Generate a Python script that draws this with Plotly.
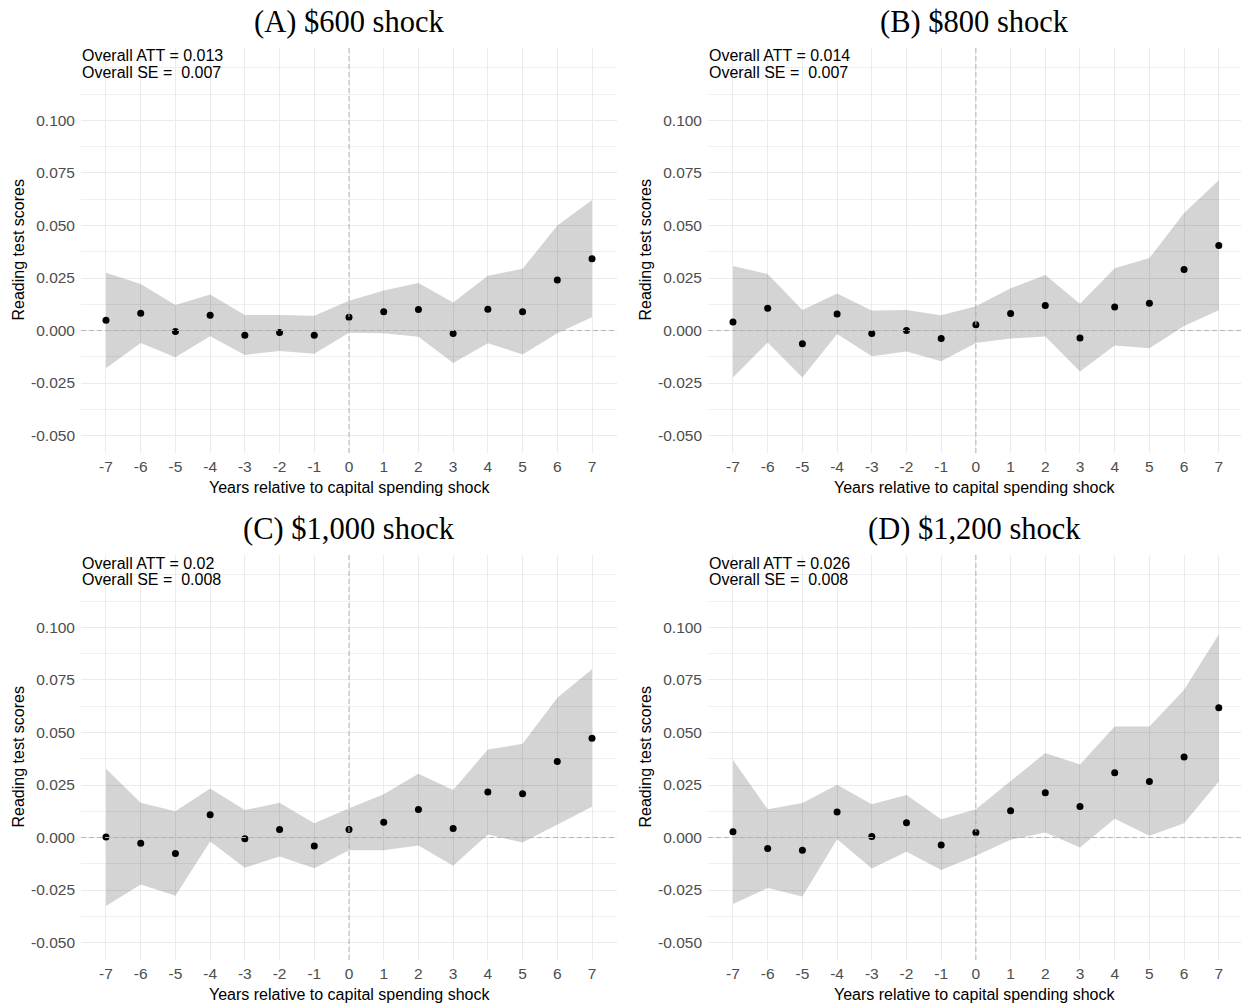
import plotly.graph_objects as go

years = [-7, -6, -5, -4, -3, -2, -1, 0, 1, 2, 3, 4, 5, 6, 7]

titles = ["(A) $600 shock", "(B) $800 shock", "(C) $1,000 shock", "(D) $1,200 shock"]
att = ["0.013", "0.014", "0.02", "0.026"]
se = ["0.007", "0.007", "0.008", "0.008"]

est_a = [0.0049, 0.0082, -0.0005, 0.0073, -0.0022, -0.0009, -0.0022, 0.0063, 0.0089, 0.0100, -0.0014, 0.0101, 0.0089, 0.0241, 0.0342]
hi_a = [0.0275, 0.0222, 0.0122, 0.0171, 0.0074, 0.0074, 0.0070, 0.0142, 0.0191, 0.0226, 0.0133, 0.0261, 0.0294, 0.0500, 0.0622]
lo_a = [-0.0179, -0.0059, -0.0127, -0.0027, -0.0116, -0.0097, -0.0111, -0.0011, -0.0013, -0.0030, -0.0155, -0.0060, -0.0114, -0.0013, 0.0063]

est_b = [0.0041, 0.0106, -0.0063, 0.0079, -0.0014, 0.0000, -0.0038, 0.0027, 0.0081, 0.0119, -0.0036, 0.0112, 0.0130, 0.0291, 0.0405]
hi_b = [0.0307, 0.0269, 0.0098, 0.0176, 0.0095, 0.0098, 0.0073, 0.0116, 0.0201, 0.0264, 0.0127, 0.0296, 0.0345, 0.0560, 0.0715]
lo_b = [-0.0223, -0.0057, -0.0223, -0.0017, -0.0122, -0.0100, -0.0146, -0.0059, -0.0038, -0.0028, -0.0195, -0.0071, -0.0084, 0.0022, 0.0097]

est_c = [0.0003, -0.0027, -0.0076, 0.0108, -0.0006, 0.0038, -0.0040, 0.0038, 0.0073, 0.0134, 0.0043, 0.0217, 0.0209, 0.0362, 0.0473]
hi_c = [0.0328, 0.0166, 0.0125, 0.0234, 0.0131, 0.0165, 0.0068, 0.0139, 0.0206, 0.0304, 0.0226, 0.0419, 0.0446, 0.0666, 0.0801]
lo_c = [-0.0326, -0.0223, -0.0277, -0.0019, -0.0144, -0.0090, -0.0146, -0.0060, -0.0060, -0.0038, -0.0134, 0.0014, -0.0024, 0.0060, 0.0146]

est_d = [0.0027, -0.0052, -0.0060, 0.0122, 0.0005, 0.0070, -0.0035, 0.0024, 0.0127, 0.0213, 0.0148, 0.0308, 0.0267, 0.0383, 0.0618]
hi_d = [0.0369, 0.0135, 0.0164, 0.0251, 0.0159, 0.0203, 0.0087, 0.0135, 0.0269, 0.0402, 0.0348, 0.0528, 0.0528, 0.0703, 0.0968]
lo_d = [-0.0316, -0.0240, -0.0281, -0.0008, -0.0148, -0.0068, -0.0154, -0.0087, -0.0011, 0.0024, -0.0048, 0.0089, 0.0008, 0.0068, 0.0267]

ytick_vals = [-0.05, -0.025, 0.0, 0.025, 0.05, 0.075, 0.1]
ytick_text = ["-0.050", "-0.025", "0.000", "0.025", "0.050", "0.075", "0.100"]

panels = [(est_a, hi_a, lo_a), (est_b, hi_b, lo_b), (est_c, hi_c, lo_c), (est_d, hi_d, lo_d)]

W, H = 1241, 1004
# panel pixel boxes (left, right, top, bottom)
boxes = [(81, 617, 48, 453), (708, 1241, 48, 453), (81, 617, 555, 960), (708, 1241, 555, 960)]
xranges = [[-7.72, 7.72], [-7.72, 7.64], [-7.72, 7.72], [-7.72, 7.64]]
yrange = [-0.0583, 0.1345]

SANS = "Liberation Sans, Arial, sans-serif"
SERIF = "Liberation Serif, Times New Roman, serif"

fig = go.Figure()
layout = dict(
    width=W, height=H, margin=dict(l=0, r=0, t=0, b=0),
    paper_bgcolor="white", plot_bgcolor="white", showlegend=False,
)
annotations = []
shapes = []

for i, ((est, hi, lo), box, xr) in enumerate(zip(panels, boxes, xranges)):
    n = i + 1
    xa = "x" if n == 1 else f"x{n}"
    ya = "y" if n == 1 else f"y{n}"
    xkey = "xaxis" if n == 1 else f"xaxis{n}"
    ykey = "yaxis" if n == 1 else f"yaxis{n}"
    l, r, t, b = box
    layout[xkey] = dict(
        domain=[l / W, r / W], range=xr, anchor=ya,
        tickvals=years, ticktext=[str(v) for v in years],
        showgrid=True, gridcolor="#ebebeb", gridwidth=1.1,
        zeroline=False, showline=False, ticks="",
        tickfont=dict(family=SANS, size=15.5, color="#4d4d4d"),
        ticklabelstandoff=2,
    )
    layout[ykey] = dict(
        domain=[1 - b / H, 1 - t / H], range=yrange, anchor=xa,
        tickvals=ytick_vals, ticktext=ytick_text,
        showgrid=True, gridcolor="#ebebeb", gridwidth=1.1,
        minor=dict(dtick=0.0125, tick0=0, showgrid=True, gridcolor="#f0f0f0", gridwidth=0.8),
        zeroline=False, showline=False, ticks="",
        tickfont=dict(family=SANS, size=15.5, color="#4d4d4d"),
        ticklabelstandoff=5,
    )
    # ribbon
    fig.add_trace(go.Scatter(x=years, y=hi, mode="lines", line=dict(width=0),
                             xaxis=xa, yaxis=ya, hoverinfo="skip"))
    fig.add_trace(go.Scatter(x=years, y=lo, mode="lines", line=dict(width=0),
                             fill="tonexty", fillcolor="rgba(0,0,0,0.17)",
                             xaxis=xa, yaxis=ya, hoverinfo="skip"))
    fig.add_trace(go.Scatter(x=years, y=est, mode="markers",
                             marker=dict(color="black", size=7),
                             xaxis=xa, yaxis=ya))
    # reference lines
    shapes.append(dict(type="line", xref=xa, yref=f"{ya} domain", x0=0, x1=0, y0=0, y1=1,
                       line=dict(color="#b3b3b3", width=1, dash="5px,3px"), layer="above"))
    shapes.append(dict(type="line", xref=f"{xa} domain", yref=ya, x0=0, x1=1, y0=0, y1=0,
                       line=dict(color="#b3b3b3", width=1, dash="5px,3px"), layer="above"))
    # title
    annotations.append(dict(text=titles[i], xref=f"{xa} domain", x=0.5, yref="paper",
                            y=1 - (t - 26) / H, xanchor="center", yanchor="middle",
                            showarrow=False, font=dict(family=SERIF, size=30.5, color="black")))
    # overall ATT / SE text (two lines)
    for line_txt, dy in ((f"Overall ATT = {att[i]}", 8), (f"Overall SE =\u00a0\u00a0{se[i]}", 24.5)):
        annotations.append(dict(text=line_txt,
                                xref=f"{xa} domain", x=0, yref="paper", y=1 - (t + dy) / H,
                                xanchor="left", yanchor="middle", align="left", showarrow=False,
                                borderpad=0,
                                font=dict(family=SANS, size=16, color="black")))
    # x axis title
    annotations.append(dict(text="Years relative to capital spending shock",
                            xref=f"{xa} domain", x=0.5, yref="paper", y=1 - (b + 34) / H,
                            xanchor="center", yanchor="middle", showarrow=False,
                            font=dict(family=SANS, size=16, color="black")))
    # y axis title
    annotations.append(dict(text="Reading test scores", textangle=-90,
                            xref="paper", x=(l - 63) / W, yref=f"{ya} domain", y=0.5,
                            xanchor="center", yanchor="middle", showarrow=False,
                            font=dict(family=SANS, size=16, color="black")))

layout["annotations"] = annotations
layout["shapes"] = shapes
fig.update_layout(**layout)
fig.write_html("out.html", config={"displayModeBar": False},
               post_script="document.body.style.margin='0';document.body.style.overflow='hidden';")
